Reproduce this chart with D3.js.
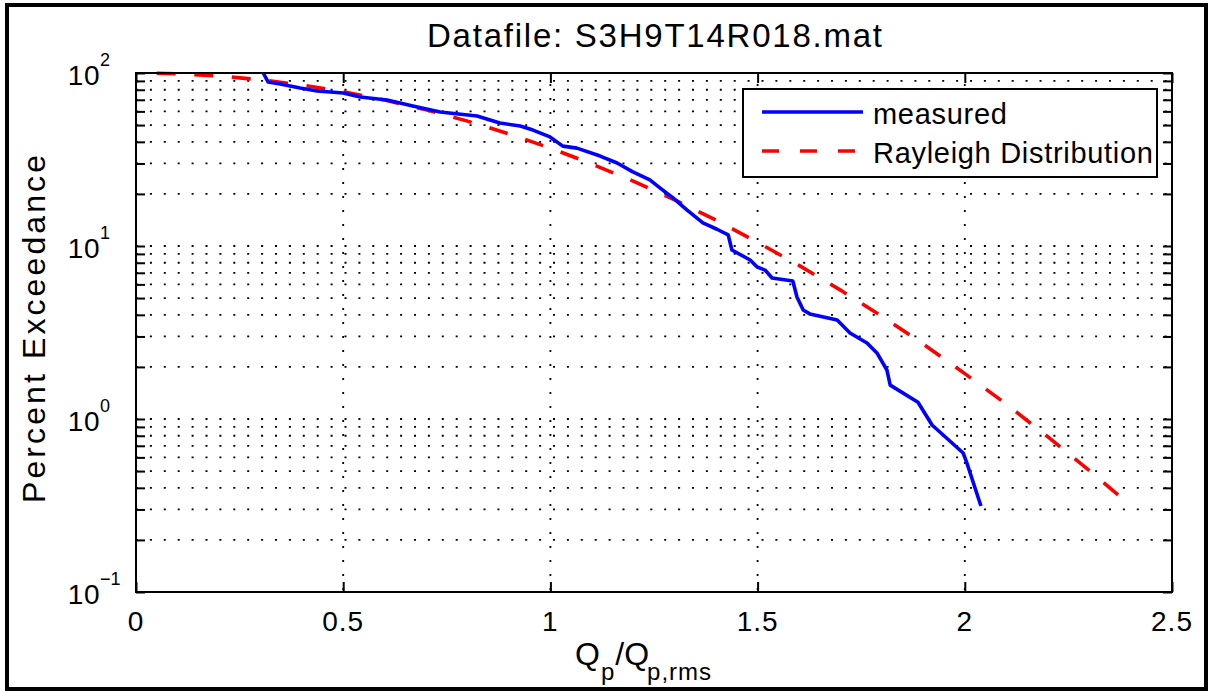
<!DOCTYPE html>
<html><head><meta charset="utf-8">
<script src="https://cdn.jsdelivr.net/npm/d3@7"></script>
<style>body{margin:0;background:#fff}svg{display:block;font-family:"Liberation Sans",Arial,Helvetica,sans-serif}</style>
</head><body><svg id="c" width="1209" height="691"></svg>
<script>
// ---- data ----
const measuredX = [0.307,0.319,0.348,0.396,0.437,0.500,0.541,0.606,0.668,0.734,0.823,0.878,0.927,0.958,0.999,1.030,1.064,1.120,1.161,1.199,1.240,1.265,1.296,1.330,1.368,1.402,1.429,1.438,1.482,1.499,1.518,1.535,1.585,1.595,1.610,1.626,1.692,1.723,1.764,1.788,1.812,1.820,1.887,1.921,1.996,2.005,2.039];
const measuredY = [100,88.7,86.4,81.9,78.7,76.6,72.7,69.8,64.4,59.5,56.4,51.4,49.4,46.8,42.7,37.8,36.8,33.1,30.2,26.8,24.1,21.6,18.95,16.1,13.6,12.5,11.6,9.48,8.3,7.56,7.26,6.53,6.28,5.07,4.27,4.05,3.73,3.14,2.75,2.41,1.92,1.57,1.25,0.923,0.636,0.557,0.314];
const rayleighX = [0.05,0.1,0.2,0.3,0.4,0.5,0.6,0.7,0.8,0.9,1.0,1.1,1.2,1.3,1.4,1.5,1.6,1.7,1.8,1.9,2.0,2.1,2.2,2.3,2.37];
const rayleighY = [99.75,99.0,96.1,91.4,85.2,77.9,69.8,61.3,52.7,44.5,36.8,29.8,23.7,18.45,14.1,10.5,7.73,5.56,3.92,2.71,1.83,1.22,0.79,0.505,0.364];
const xTicks = [0,0.5,1,1.5,2,2.5];
const xTickLabels = ["0","0.5","1","1.5","2","2.5"];
const yMajor = [0.1,1,10,100];
const yExpLabels = ["\u22121","0","1","2"];
const seriesNames = ["measured","Rayleigh Distribution"];
const titleText = "Datafile: S3H9T14R018.mat";

// ---- layout ----
const svg = d3.select("#c");
const L = 136, R = 1172, T = 73, B = 592;
const x = d3.scaleLinear().domain([0,2.5]).range([L,R]);
const y = d3.scaleLog().domain([0.1,100]).range([B,T]);

// all log grid/tick values
const yAll = [];
yMajor.forEach((m,i)=>{ if(i<yMajor.length-1){ for(let k=1;k<10;k++) yAll.push(m*k); } });
yAll.push(100);

// outer frame
svg.append("rect").attr("x",7).attr("y",5).attr("width",1199).attr("height",684)
  .attr("fill","#fff").attr("stroke","#000").attr("stroke-width",4);

// plot background
svg.append("rect").attr("x",L).attr("y",T).attr("width",R-L).attr("height",B-T).attr("fill","#fff");

// grid (dotted)
const grid = svg.append("g").attr("stroke","#000").attr("stroke-width",1.8).attr("fill","none");
grid.selectAll("line.h").data(yAll.filter(v=>v>0.1 && v<100)).join("line").attr("class","h")
  .attr("x1",L).attr("x2",R).attr("y1",d=>y(d)).attr("y2",d=>y(d))
  .attr("stroke-dasharray","2,11.9");
grid.selectAll("line.v").data(xTicks.filter(v=>v>0 && v<2.5)).join("line").attr("class","v")
  .attr("x1",d=>x(d)).attr("x2",d=>x(d)).attr("y1",B).attr("y2",T)
  .attr("stroke-dasharray","2,12").attr("stroke-dashoffset",-2);

// series
const line = d3.line().x(d=>x(d[0])).y(d=>y(d[1]));
const ray = svg.append("path").datum(rayleighX.map((v,i)=>[v,rayleighY[i]]))
  .attr("d",line).attr("fill","none").attr("stroke","#ff0000").attr("stroke-width",3.6);
// fit the dash period so the curve begins and ends with a dash
{
  const len = ray.node().getTotalLength();
  const dash = 19, n = Math.round((len - dash) / 37);
  const P = (len - dash) / n;
  ray.attr("stroke-dasharray", `${dash},${P - dash}`);
}
svg.append("path").datum(measuredX.map((v,i)=>[v,measuredY[i]]))
  .attr("d",line).attr("fill","none").attr("stroke","#0000ff").attr("stroke-width",3.6)
  .attr("stroke-linejoin","round");

// axes ticks (via d3 axes)
function styleAxis(g){ g.select(".domain").remove(); g.selectAll(".tick line").attr("stroke","#000").attr("stroke-width",2); g.selectAll("text").remove(); }
svg.append("g").attr("transform",`translate(0,${B})`)
  .call(d3.axisBottom(x).tickValues(xTicks).tickSizeInner(-10).tickSizeOuter(0)).call(styleAxis);
svg.append("g").attr("transform",`translate(0,${T})`)
  .call(d3.axisTop(x).tickValues(xTicks).tickSizeInner(-10).tickSizeOuter(0)).call(styleAxis);
svg.append("g").attr("transform",`translate(${L},0)`)
  .call(d3.axisLeft(y).tickValues(yAll).tickSizeInner(-9).tickSizeOuter(0)).call(styleAxis);
svg.append("g").attr("transform",`translate(${R},0)`)
  .call(d3.axisRight(y).tickValues(yAll).tickSizeInner(-9).tickSizeOuter(0)).call(styleAxis);

// box
svg.append("rect").attr("x",L).attr("y",T).attr("width",R-L).attr("height",B-T)
  .attr("fill","none").attr("stroke","#000").attr("stroke-width",2);

// x tick labels
svg.append("g").selectAll("text").data(xTicks).join("text")
  .attr("x",d=>x(d)).attr("y",B+39).attr("text-anchor","middle")
  .attr("font-size",28).attr("letter-spacing",1).attr("fill","#000")
  .text((d,i)=>xTickLabels[i]);

// y tick labels 10^n
const yl = svg.append("g").attr("fill","#000");
yMajor.forEach((v,i)=>{
  yl.append("text").attr("x",100).attr("y",y(v)+12).attr("text-anchor","end")
    .attr("font-size",28).attr("letter-spacing",0.5).text("10");
  yl.append("text").attr("x",100).attr("y",y(v)-7).attr("text-anchor","start")
    .attr("font-size",18).text(yExpLabels[i]);
});

// title
svg.append("text").attr("x",654.5).attr("y",47).attr("text-anchor","middle")
  .attr("font-size",33).attr("textLength",455).attr("lengthAdjust","spacing").attr("fill","#000")
  .text(titleText);

// y label
svg.append("text").attr("transform","translate(45,329) rotate(-90)").attr("text-anchor","middle")
  .attr("font-size",32).attr("textLength",348).attr("lengthAdjust","spacing").attr("fill","#000")
  .text("Percent Exceedance");

// x label Q_p/Q_p,rms
const xl = svg.append("text").attr("x",575).attr("y",665).attr("font-size",32).attr("fill","#000");
xl.append("tspan").text("Q");
xl.append("tspan").attr("font-size",24).attr("dy",15).attr("dx",1).text("p");
xl.append("tspan").attr("dy",-15).attr("dx",1).text("/Q");
xl.append("tspan").attr("font-size",24).attr("dy",15).attr("dx",-2).attr("letter-spacing",1).text("p,rms");

// legend
const lg = svg.append("g");
lg.append("rect").attr("x",743).attr("y",89).attr("width",414).attr("height",88)
  .attr("fill","#fff").attr("stroke","#000").attr("stroke-width",2);
const legColors = ["#0000ff","#ff0000"];
const legDash = [null,"17,21"];
const legY = [112,151];
seriesNames.forEach((n,i)=>{
  lg.append("line").attr("x1",762).attr("x2",863).attr("y1",legY[i]).attr("y2",legY[i])
    .attr("stroke",legColors[i]).attr("stroke-width",3.6).attr("stroke-dasharray",legDash[i]);
  lg.append("text").attr("x",873).attr("y",legY[i]+12).attr("font-size",29)
    .attr("letter-spacing",0.7).attr("fill","#000").text(n);
});
</script></body></html>
